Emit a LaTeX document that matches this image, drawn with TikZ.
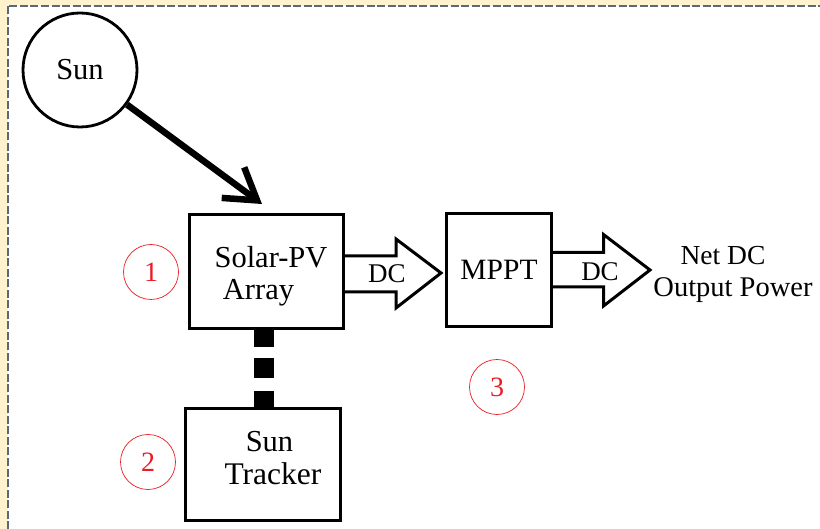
\documentclass[tikz,border=0pt]{standalone}
\usepackage{fontspec}
\setmainfont{Liberation Serif}
\usetikzlibrary{arrows.meta,calc}
\definecolor{bgyellow}{HTML}{FFF2CC}
\definecolor{framecol}{RGB}{90,105,122}
\definecolor{numred}{RGB}{237,28,36}
\begin{document}
\begin{tikzpicture}[x=1pt,y=-1pt,
  blockbox/.style={draw, line width=3pt, fill=white, inner sep=0pt},
  numcirc/.style={circle, draw=numred, line width=0.7pt, text=numred, minimum size=55pt, inner sep=0pt, font=\fontsize{28}{28}\selectfont},
  lbl/.style={anchor=base, inner sep=0pt, font=\fontsize{30.5}{30.5}\selectfont},
  dclbl/.style={anchor=base, inner sep=0pt, font=\fontsize{27}{27}\selectfont},
  blockarrow/.style={draw, line width=3pt, line join=miter, fill=white},
  sunray/.style={line width=6.5pt, -{Straight Barb[length=30pt,width=38pt]}},
  trackerlink/.style={line width=20pt, dash pattern=on 17pt off 11pt on 20pt off 13pt on 30pt},
  framedash/.style={draw=framecol, line width=2pt, dash pattern=on 8pt off 2.5pt}]
\useasboundingbox (0,0) rectangle (820,529);
\fill[bgyellow] (0,0) rectangle (820,529);
\fill[white] (7.5,6) rectangle (820,529);
\draw[framedash] (7.5,529) -- (7.5,6) -- (820,6);

% blocks
\node[circle, draw, line width=2.8pt, minimum size=114pt, inner sep=0pt, font=\fontsize{30.5}{30.5}\selectfont] (sun) at (80,70) {Sun};
\node[blockbox, minimum width=154pt, minimum height=114pt] (pv) at (266.5,271.5) {};
\node[blockbox, minimum width=105pt, minimum height=113pt, font=\fontsize{29.5}{29.5}\selectfont] (mppt) at (499,270) {MPPT};
\node[blockbox, minimum width=155pt, minimum height=112pt] (tracker) at (263,464.5) {};

\node[lbl] (pvA) at (271,268) {Solar-PV};
\node[lbl] (pvB) at (258.5,300) {Array};
\node[lbl] (trA) at (269.5,451) {Sun};
\node[lbl, font=\fontsize{31.5}{31.5}\selectfont] (trB) at (273,485) {Tracker};

% connectors
\coordinate (sunhit) at (262,204);
\draw[sunray] (sun) -- (sunhit);

\draw[blockarrow] ([yshift=15.5pt]pv.east) -- (396,256) -- (396,239) -- ([xshift=-4pt,yshift=-3pt]mppt.west)
  -- (396,308) -- (396,292) -- ([yshift=-20.5pt]pv.east);
\node[dclbl] (dc1) at (387,283) {DC};

\draw[blockarrow] ([yshift=17.5pt]mppt.east) -- (603.5,252.5) -- (603.5,234.5) -- (650,270)
  -- (603.5,306) -- (603.5,287) -- ([yshift=-17pt]mppt.east);
\node[dclbl] (dc2) at (600,281) {DC};

\node[anchor=base, inner sep=0pt, font=\fontsize{27.5}{27.5}\selectfont] (outA) at (723,265) {Net DC};
\node[anchor=base, inner sep=0pt, font=\fontsize{28.5}{28.5}\selectfont] (outB) at (733,297) {Output Power};

\draw[trackerlink] ([xshift=-2.5pt]pv.south) -- ([xshift=-2.5pt]pv.south |- tracker.north);

% numbers
\node[numcirc] (n1) at (151,272) {1};
\node[numcirc] (n2) at (148,462) {2};
\node[numcirc] (n3) at (497,387) {3};
\end{tikzpicture}
\end{document}
